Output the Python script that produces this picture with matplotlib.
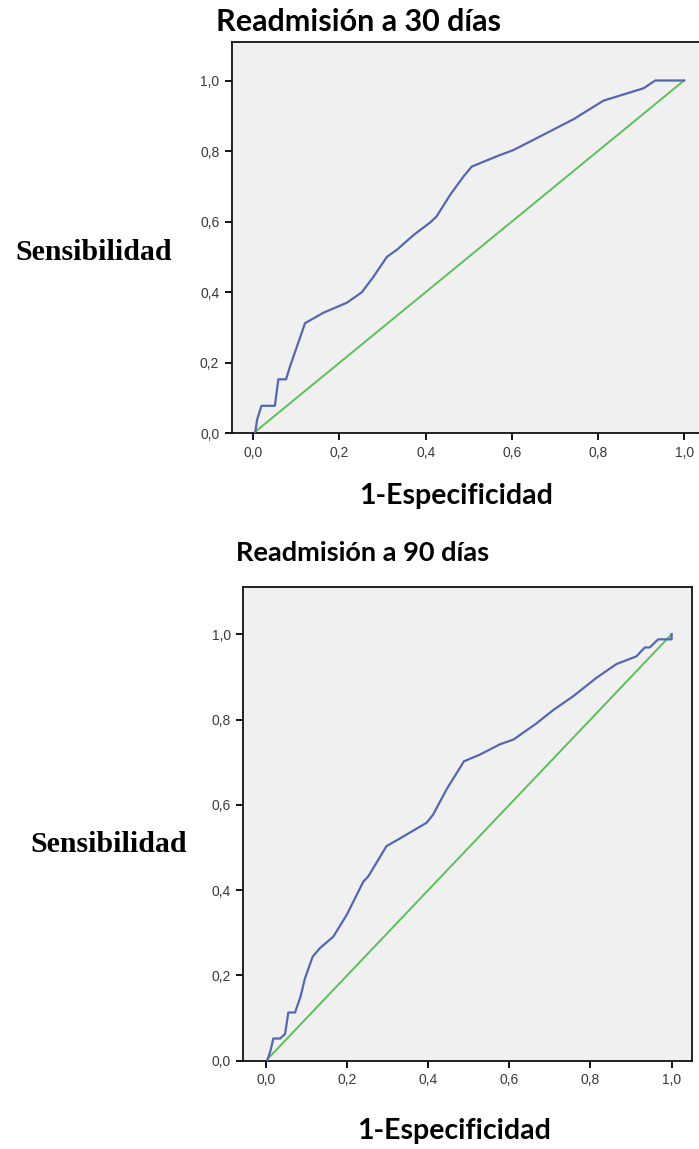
import matplotlib
matplotlib.use("Agg")
import matplotlib.pyplot as plt

# ---- data ----
tick_vals = [0.0, 0.2, 0.4, 0.6, 0.8, 1.0]
tick_labels = ["0,0", "0,2", "0,4", "0,6", "0,8", "1,0"]

fpr_30 = [0.004, 0.009, 0.019, 0.050, 0.058, 0.076, 0.085, 0.120, 0.163, 0.217, 0.252,
          0.279, 0.310, 0.333, 0.372, 0.410, 0.425, 0.457, 0.488, 0.507, 0.565, 0.604,
          0.673, 0.743, 0.813, 0.906, 0.933, 1.000]
tpr_30 = [0.000, 0.040, 0.078, 0.078, 0.153, 0.153, 0.189, 0.312, 0.342, 0.370, 0.400,
          0.444, 0.500, 0.520, 0.562, 0.597, 0.614, 0.676, 0.728, 0.756, 0.785, 0.803,
          0.846, 0.890, 0.943, 0.978, 1.000, 1.000]

fpr_90 = [0.003, 0.0115, 0.018, 0.035, 0.047, 0.055, 0.0715, 0.085, 0.096, 0.115, 0.133,
          0.166, 0.199, 0.240, 0.252, 0.297, 0.339, 0.396, 0.412, 0.445, 0.488, 0.528,
          0.577, 0.610, 0.667, 0.708, 0.758, 0.815, 0.864, 0.913, 0.934, 0.946, 0.967,
          1.000, 1.000]
tpr_90 = [0.000, 0.025, 0.052, 0.052, 0.063, 0.113, 0.113, 0.150, 0.193, 0.244, 0.264,
          0.291, 0.342, 0.420, 0.432, 0.503, 0.526, 0.558, 0.577, 0.636, 0.702, 0.718,
          0.742, 0.753, 0.791, 0.822, 0.855, 0.898, 0.930, 0.948, 0.969, 0.969, 0.988,
          0.988, 1.000]

ref_x = [0.0, 1.0]
ref_y = [0.0, 1.0]

titles = ["Readmisión a 30 días", "Readmisión a 90 días"]
ylabel = "Sensibilidad"
xlabel = "1-Especificidad"

W, H = 699, 1149
fig = plt.figure(figsize=(W / 100, H / 100), dpi=100)

BLUE = "#5468b0"
GREEN = "#5cbf5c"
BG = "#f0f0f0"


def rect(left, right, top, bottom):
    return [left / W, 1 - bottom / H, (right - left) / W, (bottom - top) / H]


def style(ax, xlim):
    ax.set_facecolor(BG)
    ax.set_xlim(*xlim)
    ax.set_ylim(0, 1.11)
    ax.set_xticks(tick_vals)
    ax.set_xticklabels(tick_labels)
    ax.set_yticks(tick_vals)
    ax.set_yticklabels(tick_labels)
    for s in ax.spines.values():
        s.set_linewidth(1.3)
        s.set_color("#111111")
    ax.tick_params(direction="out", length=5, width=1.3, labelsize=10,
                   labelcolor="#3a3a3a", pad=4)
    for lab in ax.get_xticklabels() + ax.get_yticklabels():
        lab.set_family("Liberation Sans")


ax1 = fig.add_axes(rect(231.8, 705.6, 41.7, 433.3))
style(ax1, (-0.05, 1.05))
ax1.plot(ref_x, ref_y, color=GREEN, lw=1.4, zorder=2)
ax1.plot(fpr_30, tpr_30, color=BLUE, lw=1.6, zorder=3)

ax2 = fig.add_axes(rect(243.3, 692.3, 587.3, 1060.7))
style(ax2, (-0.056, 1.051))
ax2.plot(ref_x, ref_y, color=GREEN, lw=1.4, zorder=2)
ax2.plot(fpr_90, tpr_90, color=BLUE, lw=1.6, zorder=3)

sans_b = dict(family="Lato", weight="bold", color="black")
serif_b = dict(family="Liberation Serif", weight="bold", color="black")

fig.text(358.5 / W, 1 - 22 / H, titles[0], ha="center", va="center", fontsize=22, **sans_b)
fig.text(94 / W, 1 - 252 / H, ylabel, ha="center", va="center", fontsize=21.5, **serif_b)
fig.text(456.5 / W, 1 - 496 / H, xlabel, ha="center", va="center", fontsize=20.5, **sans_b)

fig.text(362.5 / W, 1 - 553 / H, titles[1], ha="center", va="center", fontsize=19.5, **sans_b)
fig.text(109 / W, 1 - 845 / H, ylabel, ha="center", va="center", fontsize=21.5, **serif_b)
fig.text(454 / W, 1 - 1131 / H, xlabel, ha="center", va="center", fontsize=20.5, **sans_b)

fig.savefig("out.png", dpi=100, facecolor="white")
